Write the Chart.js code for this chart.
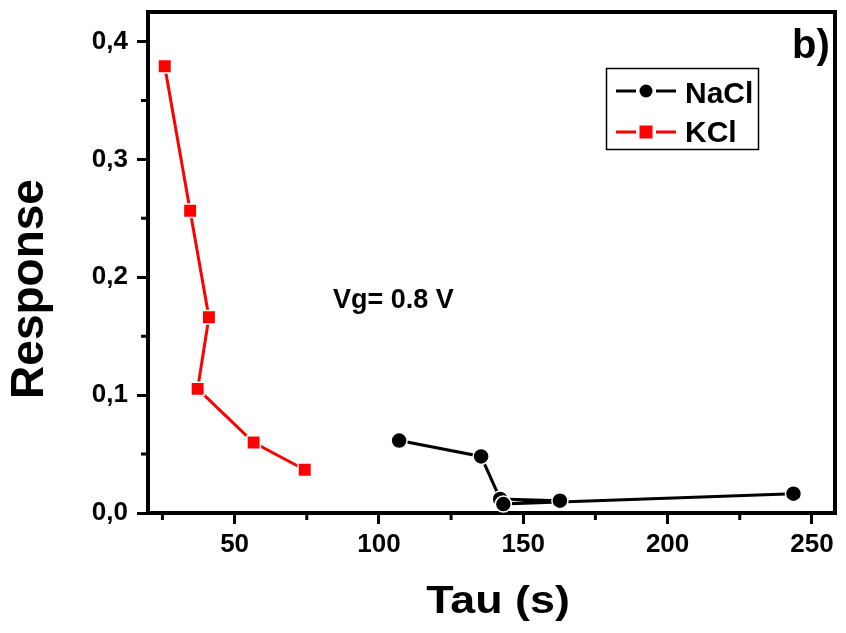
<!DOCTYPE html>
<html>
<head>
<meta charset="utf-8">
<script src="https://cdn.jsdelivr.net/npm/chart.js@4"></script>
<style>
  html, body { margin: 0; padding: 0; background: #fff; }
</style>
</head>
<body>
<canvas id="tauChart" width="846" height="633"></canvas>
<script>
// values
const naclTau = [107.0, 135.4, 142.0, 162.7, 143.1, 243.6];
const naclResponse = [0.0615, 0.048, 0.0119, 0.0104, 0.0076, 0.0164];
const kclTau = [25.8, 34.6, 41.1, 37.2, 56.6, 74.3];
const kclResponse = [0.379, 0.2564, 0.166, 0.1053, 0.0598, 0.0367];
const xMinorTicks = [25, 75, 125, 175, 225];
const yMinorTicks = [0.05, 0.15, 0.25, 0.35];
const seriesNames = ['NaCl', 'KCl'];

const FONT = '"Liberation Sans", Arial, sans-serif';
const toPoints = (xs, ys) => xs.map((v, i) => ({ x: v, y: ys[i] }));

// frame, minor ticks, titles and the boxed legend
const decorPlugin = {
  id: 'decor',
  afterDraw(chart) {
    const { ctx, chartArea: a, scales: { x, y } } = chart;
    ctx.save();
    ctx.strokeStyle = '#000';
    ctx.lineWidth = 4;
    ctx.beginPath();
    ctx.moveTo(a.left - 2, a.top);
    ctx.lineTo(a.right, a.top);
    ctx.lineTo(a.right, a.bottom + 2);
    ctx.stroke();

    ctx.lineWidth = 3;
    ctx.beginPath();
    xMinorTicks.forEach(v => {
      const px = x.getPixelForValue(v);
      ctx.moveTo(px, a.bottom);
      ctx.lineTo(px, a.bottom + 7);
    });
    yMinorTicks.forEach(v => {
      const py = y.getPixelForValue(v);
      ctx.moveTo(a.left, py);
      ctx.lineTo(a.left - 7, py);
    });
    ctx.stroke();

    ctx.fillStyle = '#000';
    ctx.textAlign = 'center';
    ctx.textBaseline = 'alphabetic';
    // x title, a bit wider than the plain font
    ctx.save();
    ctx.translate(498, 613);
    ctx.scale(1.18, 1);
    ctx.font = 'bold 38px ' + FONT;
    ctx.fillText('Tau (s)', 0, 0);
    ctx.restore();

    ctx.save();
    ctx.translate(30, 289);
    ctx.rotate(-Math.PI / 2);
    ctx.textBaseline = 'middle';
    ctx.font = 'bold 46px ' + FONT;
    ctx.fillText('Response', 0, 0);
    ctx.restore();

    ctx.font = 'bold 40px ' + FONT;
    ctx.fillText('b)', 811, 58);
    ctx.textAlign = 'left';
    ctx.font = 'bold 27px ' + FONT;
    ctx.fillText('Vg= 0.8 V', 333, 308);

    // legend
    ctx.lineWidth = 1.5;
    ctx.strokeRect(606.5, 68.5, 152, 81);
    const rows = [91, 132];
    const baselines = [103, 141.5];
    chart.data.datasets.forEach((ds, i) => {
      const ly = rows[i];
      ctx.strokeStyle = ds.borderColor;
      ctx.lineWidth = 3;
      ctx.beginPath();
      ctx.moveTo(616, ly); ctx.lineTo(636, ly);
      ctx.moveTo(656, ly); ctx.lineTo(676, ly);
      ctx.stroke();
      ctx.fillStyle = ds.borderColor;
      if (ds.pointStyle === 'circle') {
        ctx.beginPath();
        ctx.arc(646, ly, 6.5, 0, Math.PI * 2);
        ctx.fill();
      } else {
        ctx.fillRect(639.5, ly - 6.5, 13, 13);
      }
      ctx.fillStyle = '#000';
      ctx.font = 'bold 30px ' + FONT;
      ctx.fillText(ds.label, 685, baselines[i]);
    });
    ctx.restore();
  }
};

const tickFont = { family: FONT, size: 26, weight: 'bold' };

new Chart(document.getElementById('tauChart'), {
  type: 'line',
  data: {
    datasets: [{
      label: seriesNames[0],
      data: toPoints(naclTau, naclResponse),
      borderColor: '#000',
      backgroundColor: '#000',
      borderWidth: 3,
      pointStyle: 'circle',
      pointRadius: 8,
      pointBorderColor: '#fff',
      pointBorderWidth: 1.5,
      pointBackgroundColor: '#000',
      tension: 0
    }, {
      label: seriesNames[1],
      data: toPoints(kclTau, kclResponse),
      borderColor: '#ff0000',
      backgroundColor: '#ff0000',
      borderWidth: 3,
      pointStyle: 'rect',
      pointRadius: 9.5,
      pointBorderColor: '#fff',
      pointBorderWidth: 1.5,
      pointBackgroundColor: '#ff0000',
      tension: 0
    }]
  },
  options: {
    responsive: false,
    animation: false,
    layout: { padding: { left: 0, right: 7, top: 12, bottom: 0 } },
    plugins: {
      legend: { display: false },
      tooltip: { enabled: false }
    },
    scales: {
      x: {
        type: 'linear',
        min: 20,
        max: 258,
        afterFit: s => { s.height = 120; s.paddingLeft = 0; s.paddingRight = 0; },
        border: { display: true, color: '#000', width: 4 },
        grid: { drawOnChartArea: false, drawTicks: true, tickLength: 11, tickWidth: 3, tickColor: '#000' },
        ticks: { stepSize: 50, includeBounds: false, padding: 5, color: '#000', font: tickFont, maxRotation: 0 }
      },
      y: {
        min: 0,
        max: 0.425,
        afterFit: s => { s.width = 148; s.paddingTop = 0; s.paddingBottom = 0; },
        border: { display: true, color: '#000', width: 4 },
        grid: { drawOnChartArea: false, drawTicks: true, tickLength: 11, tickWidth: 3, tickColor: '#000' },
        ticks: {
          stepSize: 0.1,
          includeBounds: false,
          padding: 9,
          color: '#000',
          font: tickFont,
          callback: v => v.toFixed(1).replace('.', ',')
        }
      }
    }
  },
  plugins: [decorPlugin]
});
</script>
</body>
</html>
